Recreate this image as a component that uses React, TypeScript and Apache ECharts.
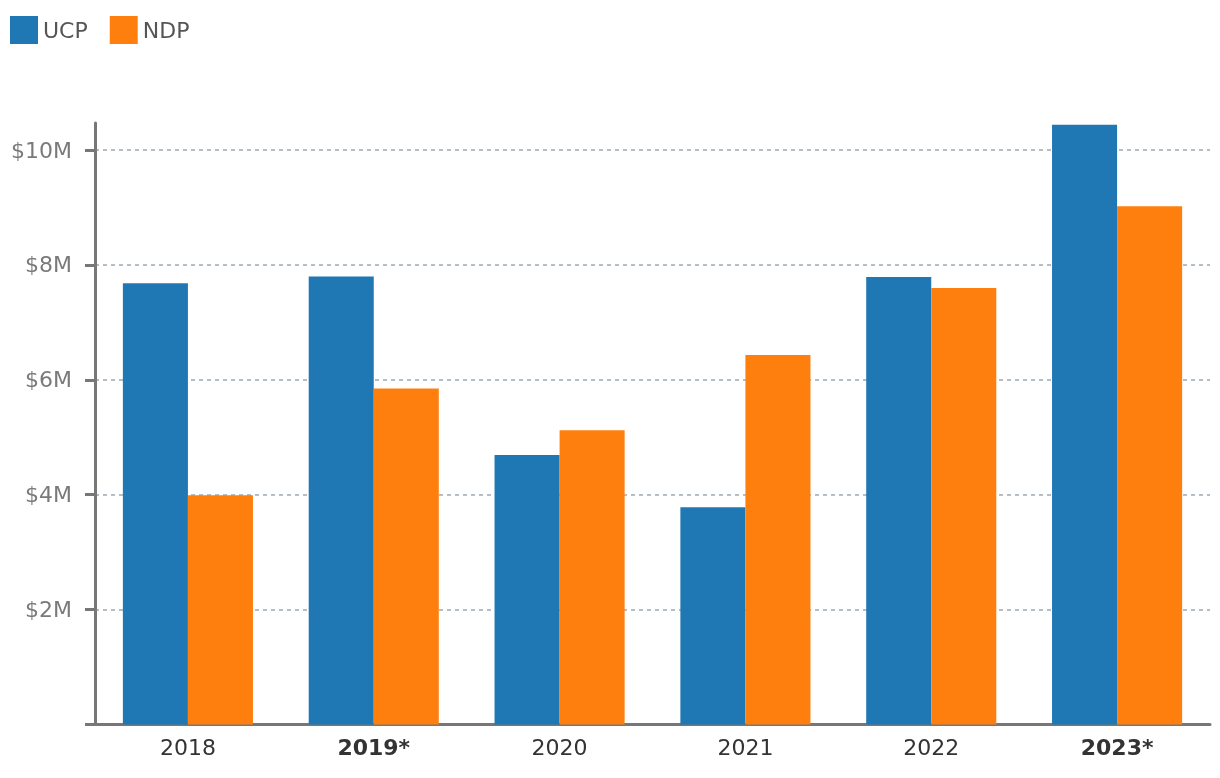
import React, { useEffect, useRef } from "react";
import * as echarts from "echarts";

const categories = ["2018", "2019*", "2020", "2021", "2022", "2023*"];
const boldCategories = ["2019*", "2023*"];
const ucp = [7.68, 7.8, 4.69, 3.78, 7.79, 10.44];
const ndp = [3.99, 5.85, 5.12, 6.43, 7.6, 9.02];
const yTicks = [0, 2, 4, 6, 8, 10];
const yLabelTicks = [2, 4, 6, 8, 10];
const yMax = 10.47;

const FONT = "DejaVu Sans";

export default function App() {
  const ref = useRef<HTMLDivElement>(null);
  useEffect(() => {
    if (!ref.current) return;
    const chart = echarts.init(ref.current, undefined, { renderer: "svg" });
    chart.setOption({
      animation: false,
      textStyle: { fontFamily: FONT },
      legend: {
        left: 5,
        top: 11,
        itemWidth: 28,
        itemHeight: 28,
        itemGap: 22,
        itemTextGap: 7,
        icon: "rect",
        textStyle: { fontFamily: FONT, fontSize: 22, color: "#555" },
        data: ["UCP", "NDP"],
      },
      grid: { left: 95, right: 10, top: 123, bottom: 53.5, containLabel: false },
      xAxis: {
        type: "category",
        data: categories,
        axisLine: { lineStyle: { color: "#777", width: 3 } },
        axisTick: { show: false },
        axisLabel: {
          margin: 12,
          fontFamily: FONT,
          fontSize: 22,
          color: "#333",
          formatter: (v: string) => (boldCategories.includes(v) ? `{b|${v}}` : v),
          rich: { b: { fontFamily: FONT, fontSize: 22, fontWeight: "bold", color: "#333" } },
        },
      },
      yAxis: {
        type: "value",
        min: 0,
        max: yMax,
        interval: 2,
        axisLine: { show: true, lineStyle: { color: "#777", width: 3 } },
        axisTick: {
          show: true,
          length: 10,
          lineStyle: { color: "#777", width: 3 },
          customValues: yTicks,
        },
        axisLabel: {
          margin: 23,
          fontFamily: FONT,
          fontSize: 22,
          color: "#7a7a7a",
          customValues: yLabelTicks,
          formatter: (v: number) => `$${v}M`,
        },
        splitLine: {
          show: true,
          showMinLine: false,
          showMaxLine: true,
          lineStyle: { color: "#b4bec6", width: 2, type: [4, 4] },
        },
      },
      series: [
        {
          name: "UCP",
          type: "bar",
          data: ucp,
          barGap: "0%",
          barCategoryGap: "30%",
          itemStyle: { color: "#1f77b4" },
        },
        {
          name: "NDP",
          type: "bar",
          data: ndp,
          barGap: "0%",
          barCategoryGap: "30%",
          itemStyle: { color: "#ff7f0e" },
        },
      ],
    });
    return () => chart.dispose();
  }, []);
  return <div ref={ref} style={{ position: "fixed", left: 0, top: 0, width: 1220, height: 778 }} />;
}
